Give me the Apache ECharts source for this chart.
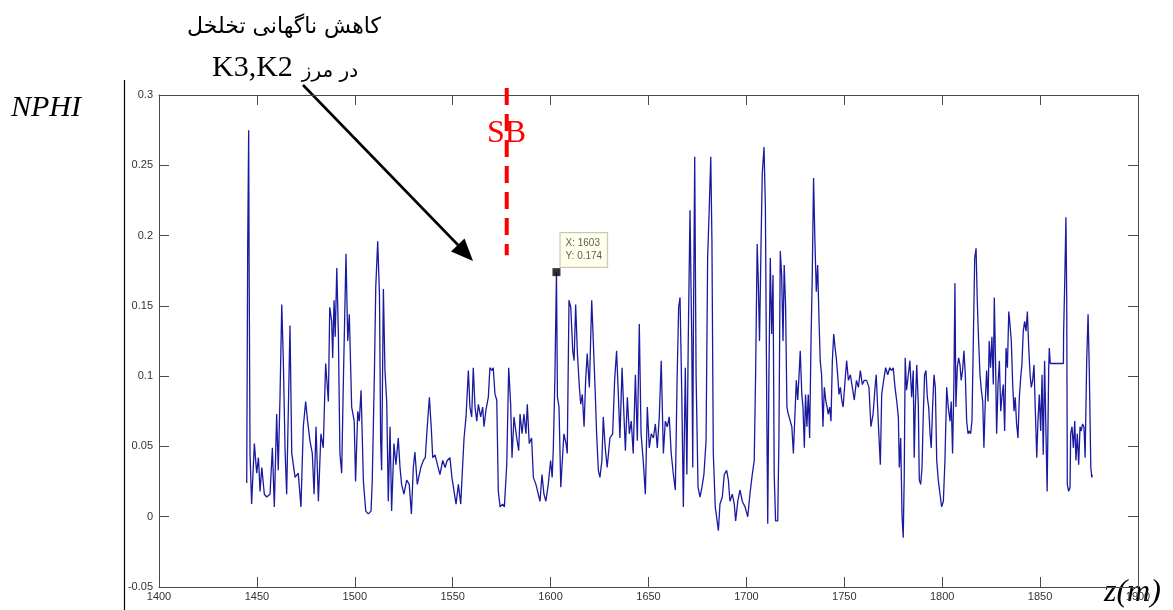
<!DOCTYPE html>
<html>
<head>
<meta charset="utf-8">
<script src="https://cdn.jsdelivr.net/npm/echarts@6/dist/echarts.min.js"></script>
<style>
  html, body { margin: 0; padding: 0; background: #fff; }
  #chart { width: 1173px; height: 610px; }
</style>
</head>
<body>
<div id="chart"></div>
<script>
// Neutron porosity log (NPHI) against depth z (m)
const depth = [
  1444.8,1445.3,1445.8,1446.0,1446.5,1447.3,1448.7,1449.9,1450.8,1451.6,1452.5,1453.8,1455.0,1456.7,1457.9,1458.9,
  1460.1,1460.9,1461.8,1462.7,1463.5,1464.4,1465.2,1466.9,1467.8,1469.5,1471.1,1472.5,1473.7,1474.9,1475.9,1477.1,
  1478.3,1479.2,1480.2,1481.4,1482.7,1483.9,1485.1,1486.5,1487.2,1488.2,1488.7,1489.4,1490.0,1490.8,1491.6,1492.4,
  1493.3,1494.1,1495.5,1496.4,1497.2,1498.4,1499.7,1500.4,1501.5,1502.3,1503.2,1504.4,1505.6,1506.9,1508.3,1508.9,
  1510.0,1510.7,1511.7,1512.6,1513.2,1513.7,1514.6,1515.4,1516.3,1517.1,
  1518.0,1518.8,1520.0,1521.0,1522.2,1523.1,1523.9,1525.1,1526.5,1527.8,1528.9,1529.9,1530.7,1531.9,1533.7,1535.0,
  1536.0,1537.0,1538.1,1539.1,1539.8,1541.0,1542.2,1543.5,1544.9,1546.1,1547.2,1548.6,1549.6,1550.7,1551.7,1552.9,
  1554.1,1555.1,1555.8,1556.8,1558.0,1558.8,1559.7,1560.5,1561.4,1562.3,1563.1,1564.3,1565.3,1566.0,1567.0,1568.2,
  1569.0,1570.1,1570.7,1571.6,1572.5,1573.3,1574.2,1575.5,1576.4,1577.6,1578.6,1579.6,1580.3,1581.3,1582.7,1583.7,
  1584.4,1585.4,1586.4,1587.4,1588.1,1589.1,1590.3,1591.2,1592.5,1593.7,1594.6,1595.6,1596.6,1597.6,1598.8,1600.0,
  1600.8,1601.4,1602.2,1603.0,
  1603.5,1604.3,1605.2,1606.0,1606.8,1607.9,1608.5,1609.4,1610.3,1611.3,1612.0,1612.8,1613.7,1614.7,1615.4,1616.2,
  1617.1,1617.9,1618.7,1619.8,1621.0,1621.8,1622.7,1623.5,1624.4,1625.2,1626.2,1626.9,1627.9,1628.9,1630.3,1631.7,
  1632.7,1633.7,1634.6,1635.4,1636.5,1637.5,1638.2,1639.2,1640.2,1641.2,1642.2,1643.3,1644.3,1645.3,1646.2,1647.3,
  1648.4,1649.4,1650.4,1651.4,1652.5,1653.5,1654.5,1655.5,1656.5,1657.6,1658.6,1659.6,1660.6,1661.6,1662.7,1663.7,
  1664.6,1665.4,1666.1,1667.0,1667.8,1668.8,1669.6,1670.3,1671.2,1672.1,1672.6,1672.9,1673.6,1674.3,1675.3,1676.3,
  1677.3,1678.3,1679.4,1680.2,1681.0,1681.8,1682.4,1683.1,1684.1,
  1685.7,1686.5,1687.7,1688.7,1689.9,1690.8,1691.6,1692.8,1693.8,1694.5,1695.6,1696.7,1697.9,1699.3,1700.7,1701.8,
  1703.0,1704.0,1704.7,1705.5,1706.0,1706.7,1707.5,1708.1,1709.0,1709.7,1710.4,1710.9,1711.5,1712.2,1712.9,1713.6,
  1714.2,1714.9,1716.0,1716.6,1717.3,1718.0,1718.7,1719.3,1720.0,1720.7,1721.4,1722.4,1723.2,1724.0,1724.8,1725.5,
  1726.2,1726.9,1727.5,1728.3,1728.9,1729.6,1730.2,1730.9,1731.6,1732.3,1733.0,1733.6,1734.3,1735.0,1735.7,1736.4,
  1737.1,1737.7,1738.4,1739.1,1739.8,1740.5,1741.2,1741.8,1742.5,1743.2,1743.9,1744.6,1745.3,1745.9,1746.6,1747.3,
  1748.0,1748.7,1749.4,1750.4,1751.2,1752.1,1753.1,1754.1,1755.1,1756.2,1757.2,1758.2,1759.2,1760.2,1761.4,1762.6,
  1763.6,1764.7,1765.7,1766.3,1767.4,1768.4,1769.1,1770.1,1771.1,1772.2,1773.2,1774.2,1775.0,
  1775.9,1776.8,1777.6,1778.1,1778.8,1779.5,1780.1,1780.6,1781.1,1781.8,1782.7,1783.5,1784.4,1785.2,1785.7,1786.2,
  1787.0,1787.8,1788.3,1789.0,1789.7,1790.3,1791.0,1791.7,1792.4,1793.1,1793.8,1794.4,1795.1,1795.8,1796.5,1797.2,
  1798.0,1798.9,1799.7,1800.6,1801.4,1802.3,1803.1,1804.0,1804.6,1805.3,1806.0,1806.5,1807.0,1807.7,1808.4,1809.1,
  1809.7,1810.4,1811.1,1811.8,1812.5,1813.2,1813.8,1814.5,1815.2,1815.9,1816.6,1817.3,1817.9,1818.6,1819.3,1820.0,
  1820.7,1821.3,1822.0,1822.7,1823.4,1824.0,1824.7,1825.4,1826.1,1826.6,1827.3,1827.8,1828.5,1829.2,1829.9,1830.5,
  1831.2,1831.9,1832.6,1833.3,1834.0,1834.6,1835.3,1836.0,1836.7,1837.3,1838.0,1838.7,1839.4,1840.1,1840.7,1841.4,
  1842.1,1842.8,1843.5,1844.2,1844.9,1845.5,1846.2,1846.9,1847.5,1848.3,1848.9,1849.6,1850.3,1851.0,1851.6,1852.3,
  1853.0,1853.6,1854.4,1854.7,1855.2,1861.9,1862.0,1862.6,1863.2,1863.6,1863.9,1864.6,1865.3,1865.6,1866.3,1867.0,
  1867.7,1868.3,1869.0,1869.7,1870.4,1871.0,1871.7,1872.4,1873.0,1873.8,1874.5,1875.1,1875.9,1876.4,1876.7
];
const nphi = [
  0.024,0.192,0.275,0.187,0.045,0.009,0.052,0.031,0.042,0.018,0.035,0.016,0.014,0.016,0.049,0.007,
  0.073,0.033,0.085,0.151,0.111,0.047,0.016,0.136,0.045,0.028,0.031,0.007,0.064,0.082,0.068,0.054,
  0.045,0.016,0.064,0.011,0.059,0.049,0.109,0.082,0.149,0.139,0.113,0.154,0.128,0.177,0.131,0.045,
  0.031,0.092,0.187,0.125,0.144,0.078,0.068,0.025,0.075,0.068,0.090,0.025,0.004,0.002,0.004,0.025,
  0.101,0.163,0.196,0.158,0.054,0.033,0.162,0.104,0.082,0.011,
  0.064,0.004,0.052,0.037,0.056,0.035,0.023,0.016,0.026,0.023,0.002,0.035,0.046,0.023,0.035,0.040,
  0.042,0.064,0.085,0.062,0.042,0.044,0.037,0.030,0.040,0.035,0.040,0.042,0.028,0.018,0.009,0.023,
  0.009,0.037,0.056,0.071,0.104,0.078,0.071,0.106,0.078,0.068,0.080,0.071,0.078,0.064,0.076,0.085,
  0.106,0.104,0.106,0.087,0.083,0.018,0.007,0.009,0.007,0.037,0.106,0.080,0.042,0.071,0.056,0.047,
  0.073,0.059,0.073,0.059,0.080,0.052,0.056,0.028,0.023,0.016,0.011,0.030,0.016,0.011,0.023,0.040,
  0.028,0.049,0.099,0.174,
  0.085,0.078,0.021,0.040,0.059,0.052,0.045,0.154,0.149,0.118,0.111,0.151,0.116,0.092,0.080,0.087,
  0.064,0.097,0.116,0.092,0.154,0.125,0.092,0.059,0.033,0.028,0.040,0.071,0.049,0.035,0.056,0.059,
  0.097,0.118,0.087,0.056,0.106,0.071,0.047,0.085,0.059,0.068,0.045,0.101,0.054,0.137,0.059,0.040,
  0.016,0.078,0.049,0.059,0.056,0.066,0.049,0.071,0.111,0.045,0.068,0.064,0.071,0.045,0.030,0.019,
  0.097,0.149,0.156,0.087,0.007,0.106,0.030,0.125,0.218,0.125,0.035,0.125,0.256,0.101,0.021,0.014,
  0.021,0.030,0.054,0.184,0.218,0.256,0.196,0.045,0.007,
  -0.010,0.009,0.014,0.030,0.033,0.026,0.011,0.016,0.009,-0.003,0.011,0.019,0.011,0.007,0.000,0.016,
  0.030,0.040,0.101,0.194,0.172,0.125,0.196,0.244,0.263,0.220,0.078,-0.005,0.101,0.184,0.130,0.172,
  0.030,-0.003,-0.003,0.054,0.189,0.172,0.125,0.179,0.151,0.078,0.073,0.068,0.064,0.045,0.073,0.097,
  0.083,0.101,0.118,0.087,0.078,0.049,0.087,0.064,0.087,0.056,0.125,0.168,0.241,0.196,0.160,0.179,
  0.139,0.111,0.101,0.064,0.092,0.083,0.078,0.073,0.078,0.068,0.111,0.130,0.120,0.113,0.101,0.087,
  0.092,0.083,0.078,0.097,0.111,0.097,0.101,0.092,0.083,0.097,0.092,0.104,0.094,0.097,0.097,0.092,
  0.064,0.073,0.092,0.101,0.066,0.037,0.087,0.097,0.106,0.101,0.106,0.104,0.106,
  0.092,0.082,0.071,0.035,0.056,0.000,-0.015,0.028,0.113,0.090,0.101,0.111,0.085,0.104,0.042,0.075,
  0.108,0.080,0.026,0.023,0.035,0.071,0.101,0.104,0.085,0.078,0.059,0.049,0.078,0.101,0.092,0.040,
  0.026,0.016,0.007,0.011,0.040,0.092,0.078,0.068,0.082,0.045,0.097,0.166,0.078,0.106,0.113,0.108,
  0.097,0.104,0.118,0.101,0.068,0.059,0.061,0.059,0.068,0.125,0.184,0.191,0.154,0.125,0.101,0.090,
  0.082,0.049,0.082,0.104,0.082,0.125,0.106,0.128,0.094,0.156,0.106,0.059,0.094,0.111,0.075,0.085,
  0.094,0.061,0.120,0.106,0.146,0.137,0.125,0.094,0.075,0.085,0.066,0.056,0.085,0.099,0.108,0.132,
  0.139,0.132,0.146,0.120,0.101,0.092,0.097,0.108,0.078,0.042,0.068,0.087,0.061,0.101,0.044,0.111,
  0.059,0.018,0.106,0.120,0.109,0.109,0.130,0.168,0.213,0.154,0.023,0.018,0.021,0.059,0.064,0.049,
  0.068,0.040,0.059,0.037,0.064,0.061,0.066,0.064,0.042,0.111,0.144,0.106,0.035,0.028,0.030
];

// axis ranges and ticks
const depthRange = [1400, 1900];
const depthStep = 50;
const nphiRange = [-0.05, 0.3];
const nphiStep = 0.05;

// sequence boundary (SB) and the data cursor point
const sbDepth = 1577.6;
const sbSpan = [0.186, 0.305];
const tipPoint = [1603, 0.174];

const chart = echarts.init(document.getElementById('chart'), null, { renderer: 'canvas' });

const axisColor = '#4a4a4a';
const labelFont = 'Liberation Sans, Arial, sans-serif';

function baseX(pos, showLabel) {
  return {
    type: 'value', position: pos,
    min: depthRange[0], max: depthRange[1], interval: depthStep,
    axisLine: { show: true, onZero: false, lineStyle: { color: axisColor, width: 1 } },
    axisTick: { show: true, inside: true, length: 10, lineStyle: { color: axisColor, width: 1 } },
    axisLabel: {
      show: showLabel, color: '#333', fontSize: 11, fontFamily: labelFont, margin: 4,
      formatter: v => String(v)
    },
    splitLine: { show: false }
  };
}
function baseY(pos, showLabel) {
  return {
    type: 'value', position: pos,
    min: nphiRange[0], max: nphiRange[1], interval: nphiStep,
    axisLine: { show: true, onZero: false, lineStyle: { color: axisColor, width: 1 } },
    axisTick: { show: true, inside: true, length: 10, lineStyle: { color: axisColor, width: 1 } },
    axisLabel: {
      show: showLabel, color: '#333', fontSize: 11, fontFamily: labelFont, margin: 6,
      formatter: v => String(+v.toFixed(2))
    },
    splitLine: { show: false }
  };
}

const option = {
  backgroundColor: '#ffffff',
  animation: false,
  grid: { left: 159, right: 35, top: 95, bottom: 23, containLabel: false },
  xAxis: [baseX('bottom', true), baseX('top', false)],
  yAxis: [baseY('left', true), baseY('right', false)],
  series: [
    {
      name: 'NPHI',
      type: 'line',
      data: depth.map((d, i) => [d, nphi[i]]),
      showSymbol: false,
      symbol: 'none',
      lineStyle: { color: '#1a1aa0', width: 1.3 },
      z: 2
    },
    {
      name: 'SB',
      type: 'line',
      data: [[sbDepth, sbSpan[1]], [sbDepth, sbSpan[0]]],
      symbol: 'none',
      clip: false,
      lineStyle: { color: '#ff0000', width: 4, type: [17, 9] },
      z: 4
    },
    {
      name: 'cursor',
      type: 'scatter',
      data: [tipPoint],
      symbol: 'rect',
      symbolSize: 8,
      itemStyle: { color: '#000' },
      z: 5,
      label: {
        show: true,
        position: [8, -35],
        align: 'left',
        verticalAlign: 'top',
        formatter: p => 'X: ' + p.value[0] + '\nY: ' + p.value[1],
        fontSize: 10,
        fontFamily: labelFont,
        color: '#333',
        lineHeight: 13,
        backgroundColor: '#ffffe6',
        borderColor: '#b8b8a8',
        borderWidth: 1,
        padding: [4, 5, 4, 5]
      }
    }
  ],
  graphic: [
    // outer frame line at the left edge of the figure
    { type: 'line', shape: { x1: 124.5, y1: 80, x2: 124.5, y2: 610 }, style: { stroke: '#000', lineWidth: 1.2 } },
    { type: 'text', x: 11, y: 93, style: { text: 'NPHI', font: 'italic 30px "Liberation Serif", "Times New Roman", serif', fill: '#000' } },
    { type: 'text', x: 1104, y: 577, style: { text: 'z(m)', font: 'italic 32px "Liberation Serif", "Times New Roman", serif', fill: '#000' } },
    { type: 'text', x: 284, y: 27, style: { text: 'کاهش ناگهانی تخلخل', font: '22px "DejaVu Sans", sans-serif', fill: '#000', textAlign: 'center', textVerticalAlign: 'middle' } },
    { type: 'text', x: 212, y: 68, style: { text: 'K3,K2', font: '30px "Liberation Serif", "Times New Roman", serif', fill: '#000', textAlign: 'left', textVerticalAlign: 'middle' } },
    { type: 'text', x: 330, y: 72, style: { text: 'در مرز', font: '20px "DejaVu Sans", sans-serif', fill: '#000', textAlign: 'center', textVerticalAlign: 'middle' } },
    { type: 'text', x: 506.5, y: 134, z: 3, style: { text: 'SB', font: '32px "Liberation Serif", "Times New Roman", serif', fill: '#ff0000', textAlign: 'center', textVerticalAlign: 'middle' } },
    // annotation arrow
    { type: 'line', shape: { x1: 303, y1: 85, x2: 458, y2: 245 }, style: { stroke: '#000', lineWidth: 2.6 } },
    { type: 'polygon', shape: { points: [[473, 261], [451, 251.5], [464.5, 238.5]] }, style: { fill: '#000' } }
  ]
};

chart.setOption(option);
</script>
</body>
</html>
